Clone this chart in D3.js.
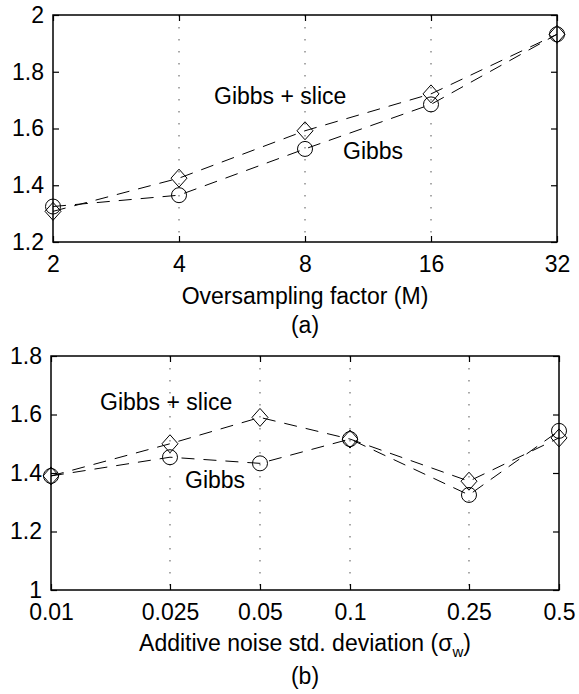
<!DOCTYPE html>
<html>
<head>
<meta charset="utf-8">
<script src="https://cdn.jsdelivr.net/npm/d3@7"></script>
<style>
  body { margin: 0; background: #fff; }
  svg text { font-family: "Liberation Sans", Arial, Helvetica, sans-serif; fill: #000; }
</style>
</head>
<body>
<div id="chart"></div>
<script>
// panel (a): oversampling factor
var factorsA = [2, 4, 8, 16, 32];
var gibbsA = [1.325, 1.365, 1.528, 1.685, 1.932];
var sliceA = [1.308, 1.425, 1.592, 1.722, 1.932];
var xLabelsA = ["2", "4", "8", "16", "32"];
var yTicksA = [1.2, 1.4, 1.6, 1.8, 2];
var yLabelsA = ["1.2", "1.4", "1.6", "1.8", "2"];

// panel (b): additive noise
var sigmaB = [0.01, 0.025, 0.05, 0.1, 0.25, 0.5];
var gibbsB = [1.39, 1.454, 1.433, 1.516, 1.325, 1.544];
var sliceB = [1.39, 1.5, 1.59, 1.516, 1.372, 1.52];
var xLabelsB = ["0.01", "0.025", "0.05", "0.1", "0.25", "0.5"];
var yTicksB = [1, 1.2, 1.4, 1.6, 1.8];
var yLabelsB = ["1", "1.2", "1.4", "1.6", "1.8"];

var w = 579;
var h = 694;
var fontSize = 23;

var svg = d3.select("#chart")
    .append("svg")
    .attr("width", w)
    .attr("height", h);

svg.append("rect")
    .attr("width", w)
    .attr("height", h)
    .attr("fill", "#fff");

function drawPanel(p) {
    var x = d3.scaleLog().domain([p.xs[0], p.xs[p.xs.length - 1]]).range([p.left, p.right]);
    var y = d3.scaleLinear().domain([p.yTicks[0], p.yTicks[p.yTicks.length - 1]]).range([p.bottom, p.top]);

    var g = svg.append("g");

    // dotted vertical grid at inner ticks
    g.selectAll("line.grid")
        .data(p.xs.slice(1, -1))
        .enter()
        .append("line")
        .attr("class", "grid")
        .attr("x1", function(d) { return x(d); })
        .attr("x2", function(d) { return x(d); })
        .attr("y1", p.top)
        .attr("y2", p.bottom)
        .attr("stroke", "#555")
        .attr("stroke-width", 1)
        .attr("stroke-dasharray", "1.5,10.5");

    var xAxis = d3.axisBottom(x)
        .tickValues(p.xs)
        .tickFormat(function(d, i) { return p.xLabels[i]; })
        .tickSize(-6)
        .tickPadding(14);
    var xTop = d3.axisTop(x).tickValues(p.xs).tickFormat("").tickSize(-6);
    var yAxis = d3.axisLeft(y)
        .tickValues(p.yTicks)
        .tickFormat(function(d, i) { return p.yLabels[i]; })
        .tickSize(-6)
        .tickPadding(9);
    var yRight = d3.axisRight(y).tickValues(p.yTicks).tickFormat("").tickSize(-6);

    var axes = [
        g.append("g").attr("transform", "translate(0," + p.bottom + ")").call(xAxis),
        g.append("g").attr("transform", "translate(0," + p.top + ")").call(xTop),
        g.append("g").attr("transform", "translate(" + p.left + ",0)").call(yAxis),
        g.append("g").attr("transform", "translate(" + p.right + ",0)").call(yRight)
    ];
    axes.forEach(function(a) {
        a.select(".domain").remove();
        a.selectAll("line").attr("stroke", "#000").attr("stroke-width", 1.2);
        a.selectAll("text")
            .attr("font-size", fontSize)
            .attr("font-family", "Liberation Sans, Arial, sans-serif")
            .attr("fill", "#000");
    });

    // frame
    g.append("rect")
        .attr("x", p.left)
        .attr("y", p.top)
        .attr("width", p.right - p.left)
        .attr("height", p.bottom - p.top)
        .attr("fill", "none")
        .attr("stroke", "#000")
        .attr("stroke-width", 1.5);

    var line = d3.line()
        .x(function(d, i) { return x(p.xs[i]); })
        .y(function(d) { return y(d); });

    [p.slice, p.gibbs].forEach(function(s) {
        g.append("path")
            .datum(s)
            .attr("d", line)
            .attr("fill", "none")
            .attr("stroke", "#000")
            .attr("stroke-width", 1)
            .attr("stroke-dasharray", "13,9");
    });

    // circles for Gibbs
    g.selectAll("circle.gibbs")
        .data(p.gibbs)
        .enter()
        .append("circle")
        .attr("class", "gibbs")
        .attr("cx", function(d, i) { return x(p.xs[i]); })
        .attr("cy", function(d) { return y(d); })
        .attr("r", 7.5)
        .attr("fill", "none")
        .attr("stroke", "#000")
        .attr("stroke-width", 1);

    // diamonds for Gibbs + slice
    g.selectAll("path.slice")
        .data(p.slice)
        .enter()
        .append("path")
        .attr("class", "slice")
        .attr("d", function(d, i) {
            var cx = x(p.xs[i]), cy = y(d);
            return "M" + cx + "," + (cy - 9) + "L" + (cx + 8) + "," + cy +
                "L" + cx + "," + (cy + 9) + "L" + (cx - 8) + "," + cy + "Z";
        })
        .attr("fill", "none")
        .attr("stroke", "#000")
        .attr("stroke-width", 1);

    // annotations
    p.notes.forEach(function(n) {
        g.append("text")
            .attr("x", n.x)
            .attr("y", n.y)
            .attr("font-size", fontSize)
            .text(n.text);
    });

    var cx = (p.left + p.right) / 2;
    var xl = g.append("text")
        .attr("x", cx)
        .attr("y", p.xTitleY)
        .attr("text-anchor", "middle")
        .attr("font-size", fontSize);
    xl.append("tspan").text(p.xTitle);
    if (p.xSub) {
        xl.append("tspan").attr("font-size", 15).attr("dy", 6).text(p.xSub);
        xl.append("tspan").attr("dy", -6).text(")");
    }

    g.append("text")
        .attr("x", cx)
        .attr("y", p.captionY)
        .attr("text-anchor", "middle")
        .attr("font-size", fontSize)
        .text(p.caption);
}

drawPanel({
    xs: factorsA, gibbs: gibbsA, slice: sliceA,
    xLabels: xLabelsA, yTicks: yTicksA, yLabels: yLabelsA,
    left: 53, right: 557, top: 15, bottom: 242,
    xTitle: "Oversampling factor (M)", xTitleY: 304,
    caption: "(a)", captionY: 333,
    notes: [
        { text: "Gibbs + slice", x: 214, y: 104 },
        { text: "Gibbs", x: 343, y: 159 }
    ]
});

drawPanel({
    xs: sigmaB, gibbs: gibbsB, slice: sliceB,
    xLabels: xLabelsB, yTicks: yTicksB, yLabels: yLabelsB,
    left: 51, right: 559, top: 356, bottom: 590,
    xTitle: "Additive noise std. deviation (\u03c3", xSub: "w", xTitleY: 651,
    caption: "(b)", captionY: 684,
    notes: [
        { text: "Gibbs + slice", x: 100, y: 410 },
        { text: "Gibbs", x: 185, y: 488 }
    ]
});
</script>
</body>
</html>
